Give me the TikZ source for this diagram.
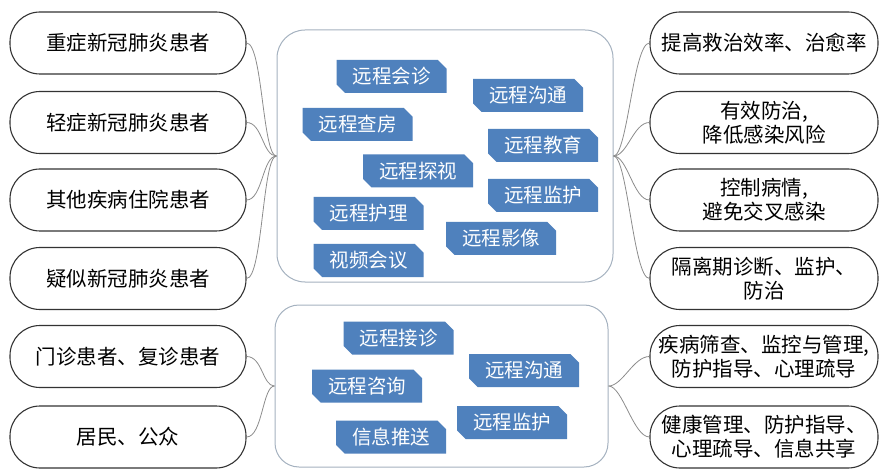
\documentclass[tikz,border=0pt]{standalone}
\usepackage{fontspec}
\setmainfont{Noto Sans CJK SC}
\usetikzlibrary{shapes.misc}
\definecolor{tagblue}{RGB}{79,129,189}
\definecolor{framegray}{RGB}{165,178,192}
\definecolor{linkgray}{RGB}{140,140,140}
\begin{document}
\begin{tikzpicture}[x=1pt,y=-1pt,
  pill/.style={draw=black!80, line width=1.1pt, rounded corners=30pt, minimum height=62pt, align=center,
     font=\fontsize{20.5}{24}\selectfont, inner sep=0pt},
  lpill/.style={pill, minimum width=236pt},
  rpill/.style={pill, minimum width=228pt},
  frame/.style={draw=framegray, line width=1pt, rounded corners=28pt, fill=white},
  tag/.style={chamfered rectangle, chamfered rectangle corners={north east,south west},
     chamfered rectangle xsep=5pt, fill=tagblue, text=white, minimum width=110pt, minimum height=33pt,
     inner sep=0pt, font=\fontsize{19.5}{22}\selectfont},
  link/.style={draw=linkgray, line width=0.8pt}]
\useasboundingbox (0,0) rectangle (880,470);
% central frames
\node[frame, minimum width=336pt, minimum height=252pt] (top) at (445,156) {};
\node[frame, minimum width=333pt, minimum height=162pt, rounded corners=24pt] (bot) at (441.5,386) {};
% left pills
\node[lpill] (l1) at (128,43) {重症新冠肺炎患者};
\node[lpill] (l2) at (128,122.5) {轻症新冠肺炎患者};
\node[lpill] (l3) at (128,200) {其他疾病住院患者};
\node[lpill] (l4) at (128,278.5) {疑似新冠肺炎患者};
\node[lpill] (l5) at (128,356.5) {门诊患者、复诊患者};
\node[lpill] (l6) at (128,437) {居民、公众};
% right pills
\node[rpill] (r1) at (764,43) {提高救治效率、治愈率};
\node[rpill] (r2) at (764,122.5) {有效防治,\\降低感染风险};
\node[rpill] (r3) at (764,200) {控制病情,\\避免交叉感染};
\node[rpill] (r4) at (764,278.5) {隔离期诊断、监护、\\防治};
\node[rpill] (r5) at (764,356.5) {疾病筛查、监控与管理,\\防护指导、心理疏导};
\node[rpill] (r6) at (764,437) {健康管理、防护指导、\\心理疏导、信息共享};
% tags top
\node[tag] (t1) at (391.5,76.5) {远程会诊};
\node[tag] (t2) at (528,95.5) {远程沟通};
\node[tag] (t3) at (357.5,124.5) {远程查房};
\node[tag] (t4) at (543,145.5) {远程教育};
\node[tag] (t5) at (418,171) {远程探视};
\node[tag] (t6) at (543,195.5) {远程监护};
\node[tag] (t7) at (368.5,213.5) {远程护理};
\node[tag] (t8) at (501,238.5) {远程影像};
\node[tag] (t9) at (368.5,260.5) {视频会议};
% tags bottom
\node[tag] (b1) at (398.5,338) {远程接诊};
\node[tag] (b2) at (524,370.5) {远程沟通};
\node[tag] (b3) at (367,386) {远程咨询};
\node[tag] (b4) at (512,422.5) {远程监护};
\node[tag] (b5) at (391,437) {信息推送};
% junctions
\coordinate (jl) at (top.west);
\coordinate (jr) at (top.east);
\coordinate (kl) at (bot.west);
\coordinate (kr) at (bot.east);
\foreach \n in {l1,l2,l3,l4}
  \draw[link] (\n.east) .. controls +(16,0) and +(-14,0) .. (jl);
\foreach \n in {r1,r2,r3,r4}
  \draw[link] (\n.west) .. controls +(-16,0) and +(14,0) .. (jr);
\foreach \n in {l5,l6}
  \draw[link] (\n.east) .. controls +(16,0) and +(-12,0) .. (kl);
\foreach \n in {r5,r6}
  \draw[link] (\n.west) .. controls +(-16,0) and +(14,0) .. (kr);
\end{tikzpicture}
\end{document}
